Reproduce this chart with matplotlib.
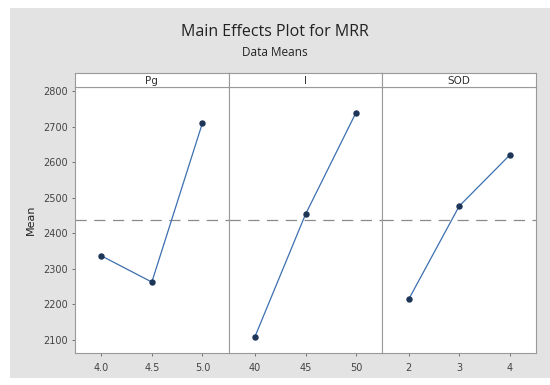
import matplotlib.pyplot as plt
from matplotlib.patches import Rectangle

factors = ["Pg", "I", "SOD"]
levels = [["4.0", "4.5", "5.0"], ["40", "45", "50"], ["2", "3", "4"]]
means = [[2336, 2262, 2710], [2108, 2453, 2740], [2213, 2476, 2620]]
grand_mean = 2436
yticks = [2100, 2200, 2300, 2400, 2500, 2600, 2700, 2800]

W, H = 550, 385
fig = plt.figure(figsize=(5.5, 3.85), dpi=100)
fig.patch.set_facecolor("white")
fig.patches.append(Rectangle((10 / W, 1 - 378 / H), 540 / W, 370 / H,
                             transform=fig.transFigure, facecolor="#e3e3e3",
                             edgecolor="none", zorder=-10))

fig.text(0.5, 1 - 32 / H, "Main Effects Plot for MRR", ha="center", va="center",
         fontsize=11.5, family="Open Sans", color="#222222")
fig.text(0.5, 1 - 52 / H, "Data Means", ha="center", va="center",
         fontsize=8.5, family="Open Sans", color="#222222")

left, right = 75, 536
top, bottom = 87, 353
pw = (right - left) / 3
edge = "#9a9a9a"

for i in range(3):
    x0 = left + i * pw
    ax = fig.add_axes([x0 / W, 1 - bottom / H, pw / W, (bottom - top) / H])
    xs = list(range(3))
    ax.plot(xs, means[i], color="#3c6fb0", lw=0.9, zorder=3)
    ax.plot(xs, means[i], "o", color="#1d3557", ms=3.6, zorder=4)
    ax.axhline(grand_mean, color="#8a8a8a", lw=0.9, dashes=(9, 6), zorder=2)
    ax.set_xlim(-0.52, 2.52)
    ax.set_ylim(2062, 2812)
    ax.set_xticks(xs)
    ax.set_xticklabels(levels[i])
    ax.set_yticks(yticks)
    for s in ax.spines.values():
        s.set_color(edge)
        s.set_linewidth(0.8)
    ax.tick_params(axis="both", labelsize=7, colors="#444444", length=2,
                   width=0.5, pad=3)
    ax.tick_params(axis="x", pad=5)
    if i == 0:
        ax.set_ylabel("Mean", fontsize=8, color="#222222", labelpad=5)
    else:
        ax.tick_params(axis="y", left=False, labelleft=False)
    # strip header
    sx = fig.add_axes([x0 / W, 1 - top / H, pw / W, 14 / H])
    sx.set_xticks([])
    sx.set_yticks([])
    sx.set_facecolor("white")
    for s in sx.spines.values():
        s.set_color(edge)
        s.set_linewidth(0.8)
    sx.text(0.5, 0.45, factors[i], ha="center", va="center", fontsize=7.5,
            color="#333333", transform=sx.transAxes)

fig.savefig("out.png", dpi=100)
